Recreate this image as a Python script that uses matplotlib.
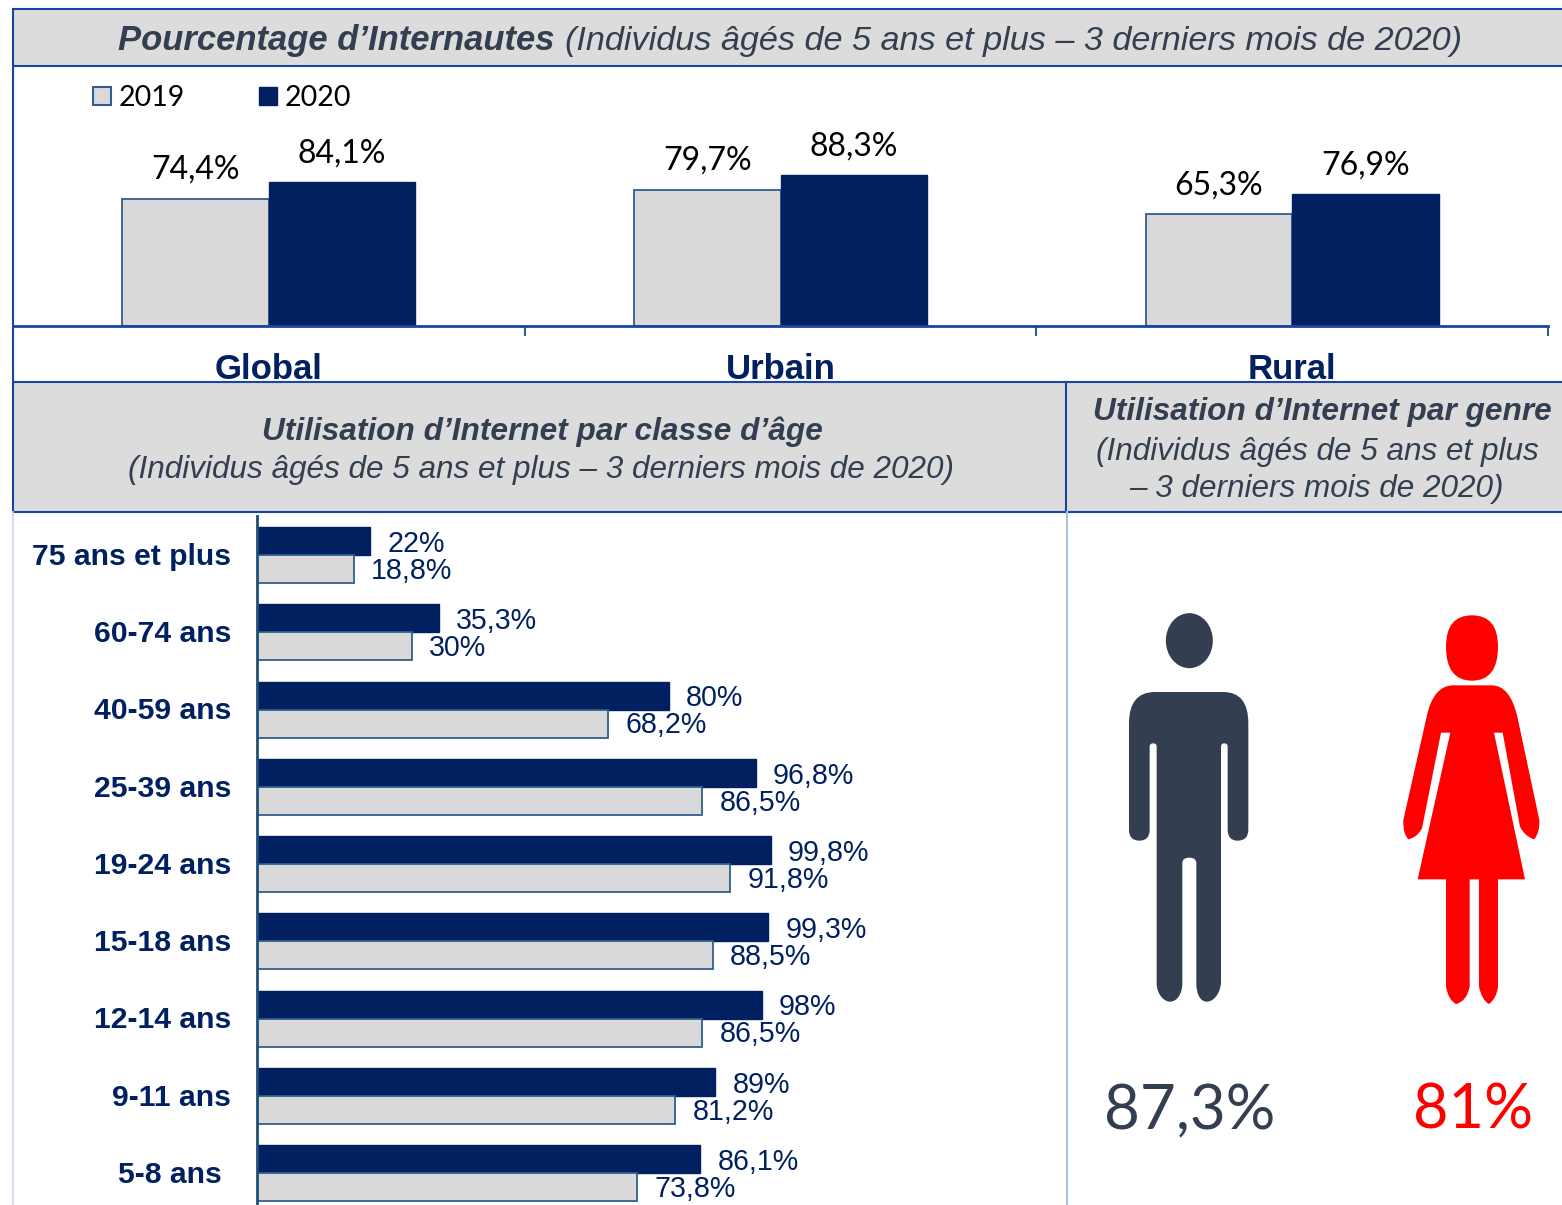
import matplotlib
matplotlib.use("Agg")
import matplotlib.pyplot as plt
from matplotlib.patches import Rectangle, Ellipse, PathPatch, Patch
from matplotlib.path import Path
import numpy as np

# --- data ---
areas = ["Global", "Urbain", "Rural"]
area_2019 = [74.4, 79.7, 65.3]
area_2020 = [84.1, 88.3, 76.9]
area_2019_labels = ["74,4%", "79,7%", "65,3%"]
area_2020_labels = ["84,1%", "88,3%", "76,9%"]

ages = ["75 ans et plus", "60-74 ans", "40-59 ans", "25-39 ans", "19-24 ans",
        "15-18 ans", "12-14 ans", "9-11 ans", "5-8 ans"]
age_2020 = [22, 35.3, 80, 96.8, 99.8, 99.3, 98, 89, 86.1]
age_2019 = [18.8, 30, 68.2, 86.5, 91.8, 88.5, 86.5, 81.2, 73.8]
age_2020_labels = ["22%", "35,3%", "80%", "96,8%", "99,8%", "99,3%", "98%", "89%", "86,1%"]
age_2019_labels = ["18,8%", "30%", "68,2%", "86,5%", "91,8%", "88,5%", "86,5%", "81,2%", "73,8%"]

male_label = "87,3%"
female_label = "81%"
years = ["2019", "2020"]

# --- styles ---
W, H = 1562, 1205
NAVY = "#002060"
LIGHT = "#d9d9d9"
EDGE = "#2f5f8a"
BORDER = "#1a44a0"
HEAD = "#dcdcdc"
SLATE = "#333f50"
ARIAL = "Liberation Sans"
CAL = "Lato"

fig = plt.figure(figsize=(W / 100, H / 100), dpi=100, facecolor="white")


def ax_px(l, t, r, b, **kw):
    return fig.add_axes([l / W, 1 - b / H, (r - l) / W, (b - t) / H], **kw)


# overlay in pixel coordinates for panels and icons
bg = ax_px(0, 0, W, H, zorder=0)
bg.set_xlim(0, W)
bg.set_ylim(H, 0)
bg.axis("off")

for (x, y, w, h) in [(13, 9, W - 13, 57), (13, 382, W - 13, 130)]:
    bg.add_patch(Rectangle((x, y), w, h, fc=HEAD, ec="none"))
for y in (9, 66, 382, 512):
    bg.plot([13, W], [y, y], color=BORDER, lw=1.5, solid_capstyle="butt")
bg.plot([13, 13], [9, 512], color=BORDER, lw=1.5)
bg.plot([1066, 1066], [382, 512], color=BORDER, lw=1.5)
bg.plot([13, 13], [512, H], color="#cdd5ea", lw=1.2)
bg.plot([1066.5, 1066.5], [512, H], color="#a9bfe0", lw=1.5)

# headers
hdr = dict(color=SLATE, va="center", style="italic", family=ARIAL)
bg.text(118, 40.5, "Pourcentage d’Internautes", fontsize=24.9, weight="bold", **hdr)
bg.text(565, 41.5, "(Individus âgés de 5 ans et plus – 3 derniers mois de 2020)", fontsize=24.7, **hdr)
bg.text(542, 432, "Utilisation d’Internet par classe d’âge", fontsize=22.75, weight="bold", ha="center", **hdr)
bg.text(541.5, 470, "(Individus âgés de 5 ans et plus – 3 derniers mois de 2020)", fontsize=22.7, ha="center", **hdr)
bg.text(1322, 412, "Utilisation d’Internet par genre", fontsize=22.75, weight="bold", ha="center", **hdr)
bg.text(1317.5, 452, "(Individus âgés de 5 ans et plus", fontsize=22.7, ha="center", **hdr)
bg.text(1316.5, 489, "– 3 derniers mois de 2020)", fontsize=22.7, ha="center", **hdr)

# --- top chart ---
ax = ax_px(13, 70, 1548, 326, zorder=2)
ax.patch.set_alpha(0)
ax.set_xlim(-0.5, 2.5)
ax.set_ylim(0, 256 / 1.712)
xp = np.arange(len(areas))
bw = 0.2865
ax.bar(xp - bw / 2, area_2019, bw, color=LIGHT, edgecolor=EDGE, linewidth=1.3)
ax.bar(xp + bw / 2, area_2020, bw, color=NAVY, edgecolor=NAVY, linewidth=1)
for s in ("top", "left", "right"):
    ax.spines[s].set_visible(False)
ax.spines["bottom"].set_color(BORDER)
ax.spines["bottom"].set_linewidth(2)
ax.set_yticks([])
ax.set_xticks(xp, areas, fontsize=25, fontweight="bold", color=NAVY, family=ARIAL)
ax.tick_params(axis="x", which="major", length=0, pad=19.4)
ax.set_xticks([0.5, 1.5, 2.5], minor=True)
ax.tick_params(axis="x", which="minor", length=7.5, width=1.5, color=EDGE)
for i in range(len(areas)):
    ax.annotate(area_2019_labels[i], (xp[i] - bw / 2, area_2019[i]), xytext=(0, 21),
                textcoords="offset points", ha="center", va="center",
                fontsize=23, family=CAL, color="black")
    ax.annotate(area_2020_labels[i], (xp[i] + bw / 2, area_2020[i]), xytext=(0, 20.5),
                textcoords="offset points", ha="center", va="center",
                fontsize=23, family=CAL, color="black")
handles = [Patch(fc=LIGHT, ec=EDGE, lw=1.5), Patch(fc=NAVY, ec=NAVY)]
ax.legend(handles, years, loc="center left", bbox_to_anchor=(93 / W, 1 - 98 / H),
          bbox_transform=fig.transFigure, frameon=False, ncol=2,
          prop=dict(family=CAL, size=20.5), handlelength=0.63, handleheight=0.63,
          handletextpad=0.28, columnspacing=2.6, borderpad=0, borderaxespad=0)

# --- bottom chart ---
ax2 = ax_px(257, 516, 1061, H, zorder=2)
ax2.patch.set_alpha(0)
ax2.set_xlim(0, 804 / 5.15)
ax2.set_ylim((H - 555) / 77.25, (516 - 555) / 77.25)
yp = np.arange(len(ages))
bh = 28 / 77.25
ax2.barh(yp - bh / 2, age_2020, bh, color=NAVY, edgecolor=NAVY, linewidth=1)
ax2.barh(yp + bh / 2, age_2019, bh, color=LIGHT, edgecolor=EDGE, linewidth=1.3)
for s in ("top", "bottom", "right"):
    ax2.spines[s].set_visible(False)
ax2.spines["left"].set_color("#1f4e79")
ax2.spines["left"].set_linewidth(2)
ax2.set_xticks([])
ax2.set_yticks(yp, [""] * len(ages))
ax2.tick_params(axis="y", length=0)
for i, name in enumerate(ages):
    dx = -26 if i < len(ages) - 1 else -35
    ax2.annotate(name, (0, i), xycoords=ax2.get_yaxis_transform(), xytext=(dx * 0.72, -1.4),
                 textcoords="offset points", ha="right", va="center",
                 fontsize=21.7, fontweight="bold", family=ARIAL, color=NAVY)
    ax2.annotate(age_2020_labels[i], (age_2020[i], yp[i] - bh / 2), xytext=(12.2, -2),
                 textcoords="offset points", ha="left", va="center",
                 fontsize=20.6, family=ARIAL, color=NAVY)
    ax2.annotate(age_2019_labels[i], (age_2019[i], yp[i] + bh / 2), xytext=(12.5, -1.4),
                 textcoords="offset points", ha="left", va="center",
                 fontsize=20.6, family=ARIAL, color=NAVY)


# --- icons (traced in zoom-crop coordinates) ---
def icon(start, segs, color):
    verts = [start]
    codes = [Path.MOVETO]
    for s in segs:
        if len(s) == 1:
            verts.append(s[0])
            codes.append(Path.LINETO)
        elif len(s) == 2:
            verts += list(s)
            codes += [Path.CURVE3, Path.CURVE3]
        else:
            verts += list(s)
            codes += [Path.CURVE4] * 3
    verts.append(start)
    codes.append(Path.CLOSEPOLY)
    v = np.array(verts, float) / 3 + np.array([1060, 590])
    bg.add_patch(PathPatch(Path(v, codes), fc=color, ec="none"))


bg.add_patch(Ellipse((1060 + 388 / 3, 590 + 152 / 3), 47, 55, fc=SLATE, ec="none"))
icon((285, 306), [
    [(490, 306)], [(565, 306), (565, 400)], [(565, 720)],
    [(565, 752), (533, 752)], [(503, 752), (503, 720)], [(503, 470)],
    [(503, 460), (493, 460)], [(483, 460), (483, 470)], [(483, 1180)],
    [(480, 1210), (462, 1235), (440, 1235)], [(420, 1235), (409, 1210), (409, 1180)],
    [(409, 820)], [(409, 803), (388, 803)], [(367, 803), (367, 820)], [(367, 1180)],
    [(367, 1210), (352, 1235), (330, 1235)], [(310, 1235), (290, 1210), (290, 1180)],
    [(290, 470)], [(290, 460), (280, 460)], [(269, 460), (269, 470)], [(269, 720)],
    [(269, 752), (238, 752)], [(207, 752), (207, 720)], [(207, 400)],
    [(207, 306), (285, 306)],
], SLATE)

# woman
icon((1236, 76), [
    [(1314, 76), (1314, 170)], [(1314, 272), (1236, 272)],
    [(1158, 272), (1158, 170)], [(1158, 76), (1236, 76)],
], "#ff0000")
icon((1180, 286), [
    [(1295, 286)], [(1350, 286), (1372, 380)], [(1438, 690)],
    [(1440, 725), (1423, 748)], [(1395, 740), (1380, 710)], [(1328, 428)], [(1302, 428)],
    [(1395, 868)], [(1314, 868)], [(1314, 1190)], [(1310, 1225), (1287, 1242)],
    [(1265, 1230), (1257, 1190)], [(1257, 868)], [(1229, 868)], [(1229, 1190)],
    [(1220, 1235), (1188, 1242)], [(1165, 1230), (1158, 1190)], [(1158, 868)],
    [(1073, 868)], [(1171, 428)], [(1143, 428)], [(1086, 715)],
    [(1072, 742), (1045, 748)], [(1028, 730), (1030, 690)], [(1100, 380)],
    [(1120, 286), (1180, 286)],
], "#ff0000")

bg.text(1190, 1111, male_label, fontsize=44.6, family=CAL, color=SLATE, ha="center", va="center")
bg.text(1473, 1111, female_label, fontsize=44, family=CAL, color="#ff0000", ha="center", va="center")

fig.savefig("out.png", dpi=100, facecolor="white")
